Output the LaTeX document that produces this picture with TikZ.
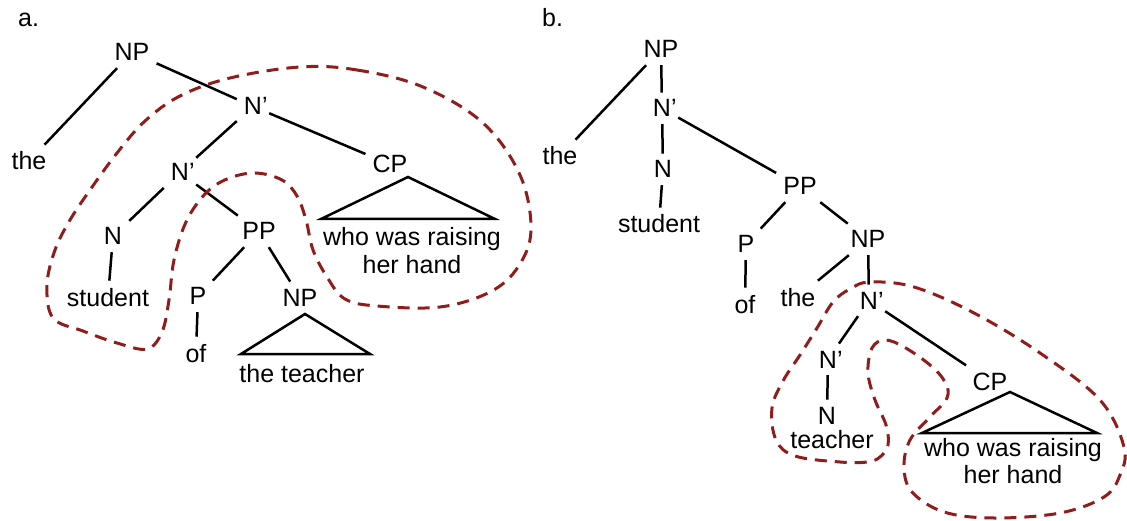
\documentclass[tikz,border=0pt]{standalone}
\usepackage{fontspec}
\setmainfont{Liberation Sans}
\definecolor{loopred}{RGB}{145,28,28}
\begin{document}
\begin{tikzpicture}[x=1pt,y=-1pt,
  lbl/.style={anchor=base, inner sep=7pt, font=\fontsize{25}{28}\selectfont},
  tag/.style={anchor=base west, inner sep=0pt, font=\fontsize{25}{28}\selectfont},
  edge/.style={line width=2.5pt, black},
  tri/.style={line width=2.5pt, black, line join=miter},
  loopline/.style={draw=loopred, line width=3pt, dash pattern=on 12pt off 8pt},
]
\useasboundingbox (0,0) rectangle (1127,521);

% ---------- tree a ----------
\node[tag] (labA) at (18,27) {a.};
\node[lbl] (npA)  at (132,61)  {NP};
\node[lbl] (theA) at (29,170)  {the};
\node[lbl] (nbA)  at (253,115) {N\rlap{’}};
\node[lbl] (nbbA) at (180,181) {N\rlap{’}};
\node[lbl] (cpA)  at (390,173) {CP};
\node[lbl] (nA)   at (113,245) {N};
\node[lbl] (ppA)  at (259,240) {PP};
\node[lbl] (stA)  at (108,306) {student};
\node[lbl] (pA)   at (198,305) {P};
\node[lbl] (npbA) at (300,306) {NP};
\node[lbl] (ofA)  at (196,362) {of};
\node[lbl] (whoA) at (412,246) {who was raising};
\node[lbl] (herA) at (412,274) {her hand};
\node[lbl] (tchA) at (302,382) {the teacher};

\draw[edge] (npA) -- (theA);
\draw[edge] (npA) -- (nbA);
\draw[edge] (nbA) -- (cpA);
\draw[edge] (nbA) -- (nbbA);
\draw[edge] (nbbA) -- (nA);
\draw[edge] (nbbA) -- (ppA);
\draw[edge] (nA) -- (stA);
\draw[edge] (ppA) -- (pA);
\draw[edge] (ppA) -- (npbA);
\draw[edge] (pA) -- (ofA);

% roof triangles
\draw[tri] (408,177) -- (321,219) -- (495,219) -- cycle;
\draw[tri] (305,314) -- (241,354) -- (370,354) -- cycle;

% dashed grouping loop
\draw[loopline] plot[smooth cycle, tension=0.6] coordinates {
  (300,67) (357,70) (423,87) (483,123) (520,175) (531,230) (518,267)
  (490,292) (440,307) (377,306) (345,299) (327,277) (313,250) (306,220)
  (297,196) (282,180) (255,173) (227,179) (205,194) (186,222) (174,260)
  (169,300) (162,332) (147,349) (117,343) (83,331) (53,318) (47,285)
  (55,250) (70,220) (90,190) (117,153) (145,121) (180,96) (230,78)};

% ---------- tree b ----------
\node[tag] (labB) at (542,27) {b.};
\node[lbl] (npB)   at (661,58)  {NP};
\node[lbl] (theB)  at (560,165) {the};
\node[lbl] (nbB)   at (662,117) {N\rlap{’}};
\node[lbl] (nB)    at (663,178) {N};
\node[lbl] (stB)   at (659,233) {student};
\node[lbl] (ppB)   at (800,195) {PP};
\node[lbl] (pB)    at (746,253) {P};
\node[lbl] (npbB)  at (868,248) {NP};
\node[lbl] (ofB)   at (745,313) {of};
\node[lbl] (thebB) at (798,306) {the};
\node[lbl] (nbbB)  at (869,309) {N\rlap{’}};
\node[lbl] (nbcB)  at (828,368) {N\rlap{’}};
\node[lbl] (nbB2)  at (827,424) {N};
\node[lbl] (tchB)  at (832,448) {teacher};
\node[lbl] (cpB)   at (990,390) {CP};
\node[lbl] (whoB)  at (1013,456) {who was raising};
\node[lbl] (herB)  at (1013,483) {her hand};

\draw[edge] (npB) -- (theB);
\draw[edge] (npB) -- (nbB);
\draw[edge] (nbB) -- (nB);
\draw[edge] (nB) -- (stB);
\draw[edge] (nbB) -- (ppB);
\draw[edge] (ppB) -- (pB);
\draw[edge] (ppB) -- (npbB);
\draw[edge] (pB) -- (ofB);
\draw[edge] (npbB) -- (thebB);
\draw[edge] (npbB) -- (nbbB);
\draw[edge] (nbbB) -- (nbcB);
\draw[edge] (nbcB) -- (nbB2);
\draw[edge] (nbbB) -- (cpB);

\draw[tri] (1010,392) -- (922,433) -- (1097,433) -- cycle;

\draw[loopline] plot[smooth cycle, tension=0.6] coordinates {
  (870,282) (914,287) (974,313) (1040,353) (1100,400) (1124,447)
  (1120,475) (1104,497) (1060,513) (994,518) (944,512) (912,492)
  (904,467) (910,440) (930,417) (947,398) (945,382) (930,365)
  (904,347) (885,340) (872,348) (868,373) (875,400) (886,425)
  (888,445) (880,457) (867,462) (840,462) (795,456) (776,440)
  (772,408) (783,381) (800,355) (817,328) (833,302) (850,289)};
\end{tikzpicture}
\end{document}
